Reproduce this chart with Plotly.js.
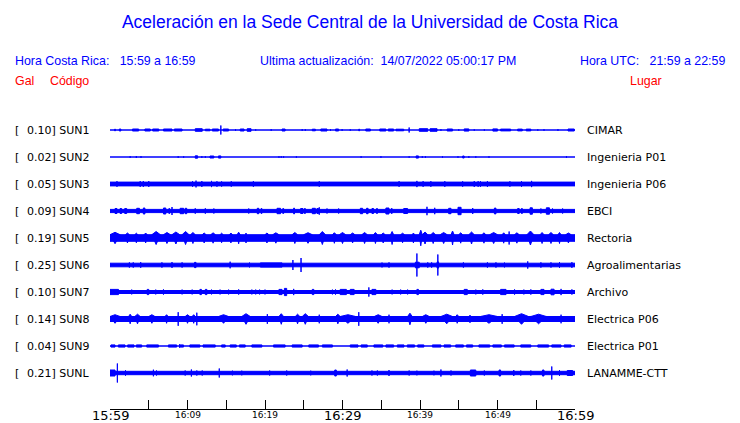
<!DOCTYPE html>
<html>
<head>
<meta charset="utf-8">
<script src="https://cdn.plot.ly/plotly-3.0.1.min.js"></script>
<style>html,body{margin:0;padding:0;background:#fff;}#chart{width:740px;height:423px;}</style>
</head>
<body>
<div id="chart"></div>
<script>
// ---------- DATA ----------
const codes  = ['SUN1','SUN2','SUN3','SUN4','SUN5','SUN6','SUN7','SUN8','SUN9','SUNL'];
const scales = ['0.10','0.02','0.05','0.09','0.19','0.25','0.10','0.14','0.04','0.21'];
const places = ['CIMAR','Ingenieria P01','Ingenieria P06','EBCI','Rectoria','Agroalimentarias','Archivo','Electrica P06','Electrica P01','LANAMME-CTT'];
// background noise half-amplitude of each trace (display units)
const baseAmp = [0, 0, 2.4, 2.1, 3.8, 2.3, 2.0, 3.0, 0, 2.2];
// bursts: [start minute, end minute, half-amplitude]
const ev_SUN1 = [[0.6,0.7,1.3],[1.2,1.4,1.5],[2.9,3.7,1.5],[4.5,5.2,1.5],[5.5,6.3,1.5],[6.9,8.0,1.5],[8.3,9.3,1.5],[11.0,11.9,1.8],[12.3,12.9,1.3],[13.2,14.0,1.5],[14.3,14.3,5],[14.6,15.3,1.5],[16.2,16.2,1.3],[16.8,17.3,1.5],[17.7,18.2,1.8],[18.8,18.8,1.2],[20.8,20.8,1.3],[22.2,22.6,1.5],[24.8,24.8,1.3],[25.2,25.2,1.3],[26.1,26.5,1.3],[27.2,28.0,1.5],[28.45,28.45,1.5],[29.1,29.5,1.5],[29.95,29.95,1.3],[31.0,31.0,1.2],[32.1,32.2,1.3],[33.0,33.6,1.5],[34.8,35.6,1.5],[35.9,36.6,1.5],[36.9,37.9,1.3],[38.6,38.6,3],[39.9,41.0,1.8],[41.3,42.2,1.8],[42.7,42.7,1.3],[43.5,44.2,1.5],[45.0,45.0,1.3],[45.7,46.3,1.6],[47.0,47.0,1.2],[48.3,48.3,1.2],[49.4,50.0,1.6],[50.4,51.7,1.4],[52.6,53.2,1.4],[53.7,54.3,1.4],[55.2,55.2,1.2],[56.0,56.0,1.2],[57.8,57.8,1.3],[59.1,59.9,1.5]];
const ev_SUN2 = [[2.6,2.6,1.3],[3.4,3.4,1.5],[4.0,4.0,1.3],[8.8,8.8,1.3],[9.5,9.5,1.2],[11.0,11.3,1.7],[11.85,11.85,1.3],[12.3,12.3,1.2],[12.9,13.4,1.5],[14.0,14.3,1.6],[21.8,21.8,1.2],[22.1,22.1,1.2],[22.4,22.4,1.2],[24.05,24.05,1.2],[32.4,32.4,1.2],[34.96,34.96,1.2],[38.6,38.6,1.2],[39.5,39.8,1.6],[40.3,40.3,1.3],[40.7,40.7,1.3],[42.9,42.9,1.2],[44.9,44.9,1.2],[45.5,45.7,1.5],[46.3,46.3,1.3],[47.2,47.2,1.2],[48.9,48.9,1.2],[58.9,58.9,1.5]];
const ev_SUN3 = [[0.9,0.9,3.3],[3.9,3.9,3.4],[4.3,4.3,3.4],[5.0,5.0,3.4],[10.65,10.65,3.3],[11.1,11.1,3.9],[11.85,11.85,3.4],[13.1,13.1,3.6],[13.8,13.8,3.2],[14.4,14.4,3.1],[15.65,15.65,3.2],[18.5,18.5,3.3],[27.0,27.0,3.2],[37.3,37.3,3.3],[39.6,39.6,3.6],[40.4,40.4,3.3],[41.4,41.4,3.3],[43.2,43.2,3.3],[45.5,45.5,3.2],[47.0,47.0,3.4],[47.5,47.5,3.3],[47.8,47.8,3.3],[48.7,48.7,3.4],[51.6,51.6,3.2],[53.1,53.1,3.3],[54.4,54.4,3.6]];
const ev_SUN4 = [[0.65,0.9,3.0],[1.3,1.5,3.0],[1.9,2.15,3.0],[3.45,3.8,3.2],[4.3,4.5,3.5],[6.9,7.2,3.5],[7.6,7.7,3.0],[8.0,8.0,4.5],[9.05,9.5,3.2],[9.7,9.9,3.2],[11.0,11.0,3.2],[12.3,12.3,3.2],[13.4,13.4,3.0],[17.9,17.9,3.0],[19.0,19.2,3.2],[19.5,19.6,3.0],[21.55,22.0,3.2],[22.3,22.4,3.0],[23.7,23.8,3.4],[24.6,24.9,3.0],[25.1,25.2,3.0],[26.1,26.5,3.2],[26.7,26.9,3.0],[27.0,27.0,4.2],[28.0,28.0,3.0],[29.5,29.5,3.0],[32.3,32.6,3.2],[33.1,33.3,3.2],[33.8,34.0,3.0],[34.4,34.5,3.0],[35.6,36.0,3.5],[36.3,36.4,3.0],[37.9,38.4,3.0],[40.9,40.9,4.7],[41.9,41.9,3.7],[43.7,44.0,3.2],[44.9,45.3,4.2],[46.8,46.8,3.5],[49.6,49.8,3.4],[52.6,52.8,3.0],[53.1,53.2,3.0],[54.2,54.5,3.7],[55.6,55.6,3.0],[56.3,56.7,3.7],[57.1,57.1,3.0],[58.4,58.4,3.0]];
const ev_SUN5 = [[0,1.3,6.2],[2.0,2.5,5.5],[3.2,3.6,5.3],[4.4,4.8,5.5],[5.4,6.5,7.0],[6.9,7.8,6.0],[8.0,9.0,6.5],[9.3,10.2,7.0],[10.4,11.0,6.0],[11.9,12.4,5.5],[13.0,13.6,5.7],[14.2,14.6,5.3],[15.4,15.8,5.5],[16.4,16.8,6.3],[17.5,17.6,5.5],[20.0,20.5,5.5],[21.0,21.8,5.7],[23.5,24.2,6.0],[25.0,26.1,5.8],[27.0,27.8,7.0],[28.7,29.2,5.8],[29.6,30.4,6.0],[31.0,31.6,5.5],[32.5,33.2,6.0],[34.0,34.5,6.0],[35.0,35.5,5.5],[36.2,36.6,7.0],[37.5,38.0,5.3],[39.0,39.3,5.5],[39.9,40.3,8.3],[40.3,41.0,6.5],[41.4,42.0,6.0],[42.6,43.5,6.0],[44.0,44.4,7.5],[45.0,45.5,5.7],[46.3,47.0,6.5],[48.0,48.5,5.7],[49.0,50.0,6.0],[50.6,51.0,5.7],[51.5,51.5,7.0],[52.2,52.8,5.7],[53.8,54.7,7.5],[55.5,56.0,6.0],[56.6,57.2,6.0],[57.8,58.2,6.0],[58.8,59.5,5.5]];
const ev_SUN6 = [[2.5,2.5,3.1],[3.0,3.0,3.1],[3.96,3.96,3.3],[6.7,6.7,3.1],[8.0,8.0,3.4],[9.3,9.3,3.1],[10.9,11.1,3.1],[15.5,15.5,3.8],[18.0,18.0,2.9],[19.4,22.2,2.6],[23.6,23.6,5.5],[24.65,24.65,7.5],[35.1,35.1,2.9],[36.0,36.0,3.1],[39.4,39.9,3.3],[39.6,39.6,12],[41.0,41.0,3.1],[41.5,41.5,3.1],[42.2,42.4,3.6],[42.3,42.3,11],[45.6,45.6,3.1],[48.7,48.7,3.1],[49.8,49.8,3.1],[50.9,50.9,2.9],[53.9,53.9,4.1],[55.6,55.6,3.1],[56.9,56.9,3.1],[58.0,58.0,3.3],[59.6,59.6,3.3]];
const ev_SUN7 = [[0,1.1,3.1],[2.8,2.8,2.9],[4.8,5.0,3.1],[5.9,5.9,2.9],[6.9,6.9,3.1],[9.3,9.3,2.9],[10.6,10.6,2.9],[11.6,11.8,3.1],[12.3,12.5,3.1],[13.1,13.1,2.9],[14.2,14.2,2.9],[15.3,15.3,2.9],[16.6,16.6,3.1],[18.3,18.3,2.9],[18.8,18.8,2.9],[19.3,19.3,2.9],[20.0,20.0,2.9],[21.8,22.2,3.1],[22.5,22.8,4.1],[23.7,23.7,3.6],[26.1,26.3,3.1],[28.7,28.7,2.9],[29.1,29.1,3.1],[29.7,30.5,3.1],[31.0,31.5,3.1],[33.4,33.4,5.1],[33.8,34.3,3.1],[36.4,36.4,2.9],[37.5,37.5,2.9],[38.4,38.4,2.9],[39.6,39.8,3.1],[45.7,46.1,3.1],[47.2,47.2,2.9],[48.1,48.1,3.1],[50.4,51.1,3.1],[52.2,52.2,3.1],[53.4,53.4,2.9],[54.3,54.3,3.1],[55.6,56.0,3.1],[56.9,57.3,3.3],[58.2,58.2,3.6],[59.6,59.6,3.1]];
const ev_SUN8 = [[0,1.3,4.8],[2.4,2.8,5.3],[3.2,3.9,5.3],[5.0,5.8,4.8],[7.1,7.5,4.8],[8.8,8.8,7.3],[9.7,10.3,4.8],[10.6,11.0,4.8],[11.2,11.2,6.8],[14.0,15.3,4.8],[17.0,18.1,5.8],[20.3,20.3,5.3],[21.8,22.4,5.8],[23.9,24.5,5.3],[24.8,25.6,5.8],[27.0,27.0,4.8],[29.1,29.7,5.3],[29.7,31.7,4.8],[32.1,32.1,7.3],[34.1,35.1,4.8],[36.0,36.0,4.8],[38.4,39.0,6.3],[40.3,41.2,4.8],[42.7,44.2,5.3],[44.6,45.0,4.8],[46.3,46.6,4.3],[47.8,50.0,4.8],[50.6,50.6,5.3],[52.2,54.0,5.8],[54.3,56.3,5.3],[58.2,58.2,4.8]];
const ev_SUN9 = [[0.13,0.65,1.6],[1.08,1.94,1.6],[2.28,3.1,1.6],[3.4,4.09,1.6],[4.74,6.25,1.6],[7.54,8.6,1.6],[9.0,9.0,2.4],[9.1,9.48,1.6],[10.3,11.6,1.6],[12.0,13.58,1.6],[14.4,14.87,1.6],[15.5,16.3,1.6],[16.7,17.45,1.6],[18.3,19.6,1.6],[21.1,22.6,1.6],[23.5,24.8,1.6],[25.65,26.9,1.6],[27.4,28.7,1.6],[31.0,32.0,1.6],[32.4,33.2,1.6],[34.05,35.2,1.6],[35.6,36.6,1.6],[37.07,37.93,1.6],[38.36,39.3,1.6],[39.7,40.5,1.6],[41.6,42.7,1.6],[43.1,43.96,1.6],[44.6,45.6,1.6],[46.0,46.8,1.6],[47.6,49.0,1.6],[49.4,50.5,1.6],[50.9,52.15,1.6],[53.0,54.3,1.6],[55.2,56.6,1.6],[57.0,58.2,1.6],[58.6,59.5,1.6]];
const ev_SUNL = [[0,0.65,3.5],[0.95,0.95,10],[2.0,2.0,3.2],[5.6,5.6,3.8],[6.0,6.0,3.0],[9.7,9.7,3.0],[10.5,10.5,4.0],[11.2,11.2,3.0],[11.9,11.9,3.0],[14.1,14.1,5.0],[15.8,15.8,2.8],[17.0,17.0,2.8],[20.6,20.6,3.0],[22.8,22.8,3.0],[25.9,25.9,2.8],[29.0,29.2,3.5],[30.6,30.6,4.0],[33.8,33.8,3.0],[34.5,34.5,3.0],[36.0,36.0,3.5],[38.6,38.6,3.0],[39.6,39.6,2.8],[41.8,41.8,2.8],[42.7,42.7,4.0],[44.0,44.0,3.0],[46.5,47.2,3.5],[48.3,48.3,3.0],[50.2,50.4,3.5],[52.1,52.1,3.5],[53.0,53.0,3.0],[54.3,54.3,3.0],[55.8,56.0,3.5],[57.0,57.0,7.0],[58.0,58.0,3.5],[59.0,59.7,3.0]];
const events = [ev_SUN1, ev_SUN2, ev_SUN3, ev_SUN4, ev_SUN5, ev_SUN6, ev_SUN7, ev_SUN8, ev_SUN9, ev_SUNL];
const tickMinutes = [0,5,10,15,20,25,30,35,40,45,50,55,60];
const tickLabels  = ['15:59','','16:09','','16:19','','16:29','','16:39','','16:49','','16:59'];
const majorLabels = ['15:59','16:29','16:59'];
const titleText = 'Aceleración en la Sede Central de la Universidad de Costa Rica';
const horaCR = 'Hora Costa Rica:   15:59 a 16:59';
const ultima = 'Ultima actualización:  14/07/2022 05:00:17 PM';
const horaUTC = 'Hora UTC:   21:59 a 22:59';

// ---------- LAYOUT GEOMETRY / STYLE ----------
const W = 740, H = 423;
const L = 110, R = 575, T = 100, B = 409;
const span = 60;
const row0 = 30, rowStep = 27;
const blue = '#0000ff', red = '#ff0000';
const spindle = [false, false, false, false, true, false, false, true, false, false];
const px2paperX = p => (p - L) / (R - L);
const px2paperY = p => (B - p) / (B - T);
const OUT = 0.5; // half of outline width

const traces = [];
codes.forEach((c, i) => {
  const yc = row0 + rowStep * i;
  const b = Math.max(baseAmp[i] - OUT, 0);
  const xs = [], ys = [];
  const addRect = (t0, t1, a) => {
    const h = Math.max(a - OUT, 0);
    xs.push(t0, t1, t1, t0, t0, null);
    ys.push(yc - h, yc - h, yc + h, yc + h, yc - h, null);
  };
  const addSpindle = (t0, t1, a) => {
    const h = Math.max(a - OUT, 0);
    const tm = (t0 + t1) / 2;
    xs.push(t0, tm, t1, tm, t0, null);
    ys.push(yc - b, yc - h, yc - b, yc + h, yc - b, null);
  };
  addRect(0, span, baseAmp[i]);
  events[i].forEach(e => {
    if (spindle[i] && e[1] > e[0]) addSpindle(e[0], e[1], e[2]);
    else addRect(e[0], e[1], e[2]);
  });
  traces.push({
    type: 'scatter', mode: 'lines', x: xs, y: ys,
    fill: 'toself', fillcolor: blue, connectgaps: false,
    line: {color: blue, width: 1}, hoverinfo: 'skip', showlegend: false
  });
});

const hdrFont = c => ({family: 'Liberation Sans, Arial', size: 12.4, color: c});
const ann = [];
const A = (text, px, py, opts) => ann.push(Object.assign({
  text, xref: 'paper', yref: 'paper', x: px2paperX(px), y: px2paperY(py),
  xanchor: 'left', yanchor: 'middle', showarrow: false, borderpad: 0,
  font: hdrFont(blue)
}, opts || {}));

A(horaCR, 14, 61);
A(ultima, 259, 61);
A(horaUTC, 726, 61, {xanchor: 'right'});
A('Gal', 14, 81, {font: hdrFont(red)});
A('Código', 49, 81, {font: hdrFont(red)});
A('Lugar', 663, 81, {xanchor: 'right', font: hdrFont(red)});

codes.forEach((c, i) => {
  const py = T + row0 + rowStep * i;
  const f = {family: 'DejaVu Sans', size: 11, color: '#000'};
  A('[', 14, py, {font: f});
  A(scales[i] + '] ' + c, 26, py, {font: f});
  A(places[i], 586, py, {font: f});
});

tickMinutes.forEach((m, k) => {
  const lab = tickLabels[k];
  if (!lab) return;
  const big = majorLabels.includes(lab);
  ann.push({
    text: lab, xref: 'x', yref: 'paper', x: m, y: px2paperY(big ? 415.5 : 415),
    xanchor: 'center', yanchor: 'middle', showarrow: false, borderpad: 0,
    font: {family: 'DejaVu Sans', size: big ? 13 : 9, color: '#000'}
  });
});

const layout = {
  width: W, height: H,
  margin: {l: L, r: W - R, t: T, b: H - B, pad: 0},
  paper_bgcolor: '#fff', plot_bgcolor: '#fff',
  title: {text: titleText, xref: 'container', yref: 'container', x: 0.5, y: 1 - 22 / H,
          xanchor: 'center', yanchor: 'middle',
          font: {family: 'Liberation Sans, Arial', size: 17.5, color: blue}},
  xaxis: {range: [0, span], showline: true, linecolor: '#000', linewidth: 1,
          ticks: 'inside', ticklen: 9, tickwidth: 1, tickcolor: '#000',
          tickmode: 'array', tickvals: tickMinutes, showticklabels: false,
          showgrid: false, zeroline: false, fixedrange: true},
  yaxis: {range: [B - T, 0], visible: false, showgrid: false, zeroline: false, fixedrange: true},
  annotations: ann,
  hovermode: false, showlegend: false
};

Plotly.newPlot('chart', traces, layout, {displayModeBar: false, staticPlot: true});
</script>
</body>
</html>
